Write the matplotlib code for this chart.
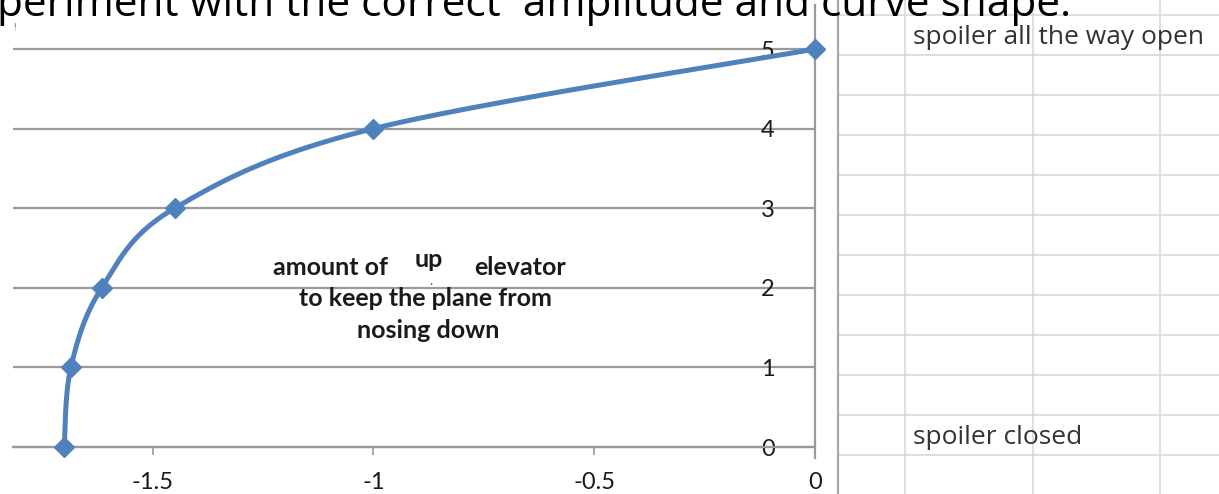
import numpy as np
import matplotlib
matplotlib.use('Agg')
from matplotlib import pyplot as plt
from matplotlib.ticker import FixedLocator, FuncFormatter

# elevator deflection needed for each spoiler setting
elevator = [-1.7, -1.685, -1.615, -1.45, -1.0, 0.0]
spoiler = [0, 1, 2, 3, 4, 5]
x_ticks = [-1.5, -1, -0.5, 0]
y_ticks = [0, 1, 2, 3, 4, 5]

W, H = 1219, 494
plt.rcParams['axes.unicode_minus'] = False
plt.rcParams['font.family'] = ['Lato', 'DejaVu Sans']
fig = plt.figure(figsize=(W / 100, H / 100), dpi=100)

# worksheet cells next to the chart, pixel coordinates
bg = fig.add_axes([0, 0, 1, 1])
bg.set_xlim(0, W)
bg.set_ylim(H, 0)
bg.axis('off')
for yy in range(15, H, 40):
    bg.plot([838, W], [yy, yy], color='#d6d6d6', lw=1.1)
for xx in [905, 1033, 1160]:
    bg.plot([xx, xx], [0, H], color='#d6d6d6', lw=1.1)
bg.plot([838, 838], [0, H], color='#a8a8a8', lw=1.6)
bg.text(913, 37, 'spoiler all the way open', fontsize=19, color='#333333',
        va='center', ha='left', family=['Open Sans'])
bg.text(913, 437, 'spoiler closed', fontsize=19, color='#333333',
        va='center', ha='left', family=['Open Sans'])
bg.text(15, 27, '!', fontsize=7, color='#666655', va='center', ha='center')

fig.text(-3 / W, 1 - 16 / H, 'periment with the correct  amplitude and curve shape.',
         fontsize=30.5, family=['Open Sans'], color='black', va='baseline', ha='left')

# the chart itself
ax = fig.add_axes([13 / W, (H - 458) / H, (815 - 13) / W, (458 - 5) / H])
ax.patch.set_alpha(0)
ax.set_xlim(-1.816, 0)
ax.set_ylim(-0.138, 5.553)

for s in ['top', 'right']:
    ax.spines[s].set_visible(False)
ax.spines['left'].set_position(('data', 0))
ax.spines['bottom'].set_position(('data', 0))
for s in ['left', 'bottom']:
    ax.spines[s].set_color('#9a9a9a')
    ax.spines[s].set_linewidth(1.6)

ax.xaxis.set_major_locator(FixedLocator(x_ticks))
ax.yaxis.set_major_locator(FixedLocator(y_ticks))
ax.xaxis.set_major_formatter(FuncFormatter(lambda v, p: '%g' % v))
ax.yaxis.set_major_formatter(FuncFormatter(lambda v, p: '%g' % v))
ax.yaxis.grid(True, color='#9a9a9a', lw=1.6)
ax.set_axisbelow(True)
ax.tick_params(axis='y', length=0, pad=29, labelsize=17, labelcolor='#1a1a1a')
ax.tick_params(axis='x', direction='out', length=6, width=1.2, color='#9a9a9a',
               pad=12, labelsize=17, labelcolor='#1a1a1a')

# smoothed line (Bezier through the points, in screen space)
fig.canvas.draw()
pts = ax.transData.transform(np.column_stack([elevator, spoiler]))
ext = np.vstack([pts[0], pts, pts[-1]])
curve = []
t = np.linspace(0, 1, 40)[:, None]
for i in range(1, len(ext) - 2):
    p0, p1, p2, p3 = ext[i - 1], ext[i], ext[i + 1], ext[i + 2]
    c1 = p1 + (p2 - p0) / 6
    c2 = p2 - (p3 - p1) / 6
    seg = ((1 - t) ** 3) * p1 + 3 * ((1 - t) ** 2) * t * c1 + 3 * (1 - t) * t ** 2 * c2 + t ** 3 * p2
    curve.append(seg)
curve = ax.transData.inverted().transform(np.vstack(curve))
ax.plot(curve[:, 0], curve[:, 1], color='#4f81bd', lw=3.6, solid_capstyle='round',
        clip_on=False, zorder=3)
ax.plot(elevator, spoiler, linestyle='none', marker='D', markersize=10,
        color='#4f81bd', clip_on=False, zorder=4)

# note inside the plot
note = dict(fontsize=18, fontweight='bold', color='#1a1a1a', ha='center', va='center')
ax.text(-1.098, 2.26, 'amount of', **note)
ax.text(-0.875, 2.36, 'up', **note)
ax.text(-0.668, 2.26, 'elevator', **note)
ax.text(-0.882, 1.87, 'to keep the plane from', **note)
ax.text(-0.877, 1.47, 'nosing down', **note)
ax.text(-0.869, 2.08, '.', fontsize=10, color='#555555', ha='center', va='center')

fig.savefig('out.png', dpi=100)
